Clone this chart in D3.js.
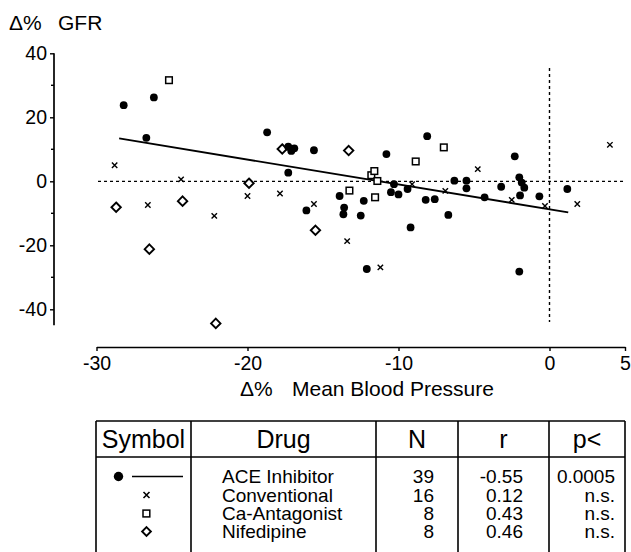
<html>
    <head>
        <style>
            body { margin: 0; background: #fff; }
            svg { display: block; }
            text { font-family: 'Liberation Sans', Arial, sans-serif; fill: #000; }
        </style>
        <script src="https://cdnjs.cloudflare.com/ajax/libs/d3/7.8.5/d3.min.js"></script>
    </head>
    <body>
        <script>
            // [change in mean BP %, change in GFR %]
            const aceInhibitor = [
                [-28.2, 23.8], [-26.7, 13.6], [-26.2, 26.2], [-18.7, 15.3], [-17.3, 10.8],
                [-17.1, 9.5], [-16.9, 10.3], [-17.3, 2.7], [-16.1, -9.1], [-15.6, 9.7],
                [-13.9, -4.6], [-13.6, -8.2], [-13.65, -10.3], [-12.5, -10.7], [-12.3, -6.1],
                [-12.1, -27.4], [-10.8, 8.5], [-10.3, -0.9], [-10.5, -3.4], [-10.0, -4.1],
                [-9.4, -2.4], [-9.2, -14.4], [-8.1, 14.1], [-8.2, -5.8], [-7.6, -5.6],
                [-6.7, -10.5], [-6.3, 0.2], [-5.5, 0.2], [-5.5, -2.2], [-4.3, -5.0],
                [-3.2, -1.7], [-2.3, 7.8], [-2.0, 1.25], [-1.84, -0.4], [-1.67, -2.0],
                [-1.95, -4.4], [-2.0, -28.2], [-0.67, -4.7], [1.18, -2.4]
            ];
            const conventional = [
                [-28.8, 5.0], [-26.6, -7.4], [-24.4, 0.6], [-22.2, -10.8], [-20.0, -4.6],
                [-17.85, -3.8], [-15.6, -7.1], [-13.4, -18.7], [-11.2, -26.9], [-9.1, -0.9],
                [-6.9, -3.0], [-4.75, 3.8], [-2.5, -5.8], [-0.3, -7.7], [1.84, -7.1], [4.0, 11.4]
            ];
            const caAntagonist = [
                [-25.2, 31.6], [-13.25, -2.9], [-11.8, 1.9], [-11.6, 3.2],
                [-11.4, 0.1], [-11.55, -5.0], [-8.86, 6.2], [-7.0, 10.6]
            ];
            const nifedipine = [
                [-28.7, -8.1], [-26.5, -21.2], [-24.3, -6.2], [-22.1, -44.4],
                [-19.9, -0.6], [-17.7, 10.1], [-15.5, -15.3], [-13.3, 9.6]
            ];
            const regression = [[-28.5, 13.4], [1.24, -9.7]];

            const xTicks = [-30, -20, -10, 0, 5];
            const yTicks = [40, 20, 0, -20, -40];
            const yMinorTicks = [30, 10, -10, -30];

            const tableHeaders = ['Symbol', 'Drug', 'N', 'r', 'p<'];
            const drugs = ['ACE Inhibitor', 'Conventional', 'Ca-Antagonist', 'Nifedipine'];
            const nValues = ['39', '16', '8', '8'];
            const rValues = ['-0.55', '0.12', '0.43', '0.46'];
            const pValues = ['0.0005', 'n.s.', 'n.s.', 'n.s.'];

            const width = 631;
            const height = 552;

            const svg = d3.select('body').append('svg')
                .attr('width', width)
                .attr('height', height);

            const x = d3.scaleLinear().domain([-30, 5]).range([96.5, 625]);
            const y = d3.scaleLinear().domain([40, -40]).range([53.3, 309.3]);
            const yAxisX = 54;
            const xAxisY = 347;
            const plain = d => String(d); // hyphen minus like the original

            // y axis
            const yAxis = svg.append('g')
                .attr('transform', `translate(${yAxisX},0)`)
                .call(d3.axisLeft(y).tickValues(yTicks).tickFormat(plain)
                    .tickSize(4).tickSizeOuter(0).tickPadding(3));
            yAxis.select('.domain').remove();
            yAxis.selectAll('text').attr('font-size', 19.5).attr('font-family', null);
            yAxis.selectAll('line').attr('stroke-width', 1.4);
            yAxis.selectAll('.minor')
                .data(yMinorTicks)
                .enter().append('line')
                .attr('x1', -3).attr('x2', 0)
                .attr('y1', d => y(d)).attr('y2', d => y(d))
                .attr('stroke', '#000').attr('stroke-width', 1.4);
            yAxis.append('line')
                .attr('x1', 0).attr('x2', 0)
                .attr('y1', y(40)).attr('y2', y(-45))
                .attr('stroke', '#000').attr('stroke-width', 1.7);

            // x axis
            const xAxis = svg.append('g')
                .attr('transform', `translate(0,${xAxisY})`)
                .call(d3.axisBottom(x).tickValues(xTicks).tickFormat(plain)
                    .tickSize(4).tickSizeOuter(0).tickPadding(5));
            xAxis.select('.domain').attr('stroke-width', 1.7);
            xAxis.selectAll('line').attr('stroke-width', 1.4);
            xAxis.selectAll('text').attr('font-size', 19.5).attr('font-family', null);

            // axis titles
            const yTitle = svg.append('text').attr('y', 30).attr('font-size', 21);
            yTitle.append('tspan').attr('x', 9).text('Δ%');
            yTitle.append('tspan').attr('x', 58).text('GFR');

            const xTitle = svg.append('text').attr('y', 396).attr('font-size', 21);
            xTitle.append('tspan').attr('x', 240).text('Δ%');
            xTitle.append('tspan').attr('x', 292).text('Mean Blood Pressure');

            // reference lines at zero
            svg.append('line')
                .attr('x1', x(-29.9)).attr('x2', x(5))
                .attr('y1', y(0)).attr('y2', y(0))
                .attr('stroke', '#000').attr('stroke-width', 1.2)
                .attr('stroke-dasharray', '3,3');
            svg.append('line')
                .attr('x1', x(0)).attr('x2', x(0))
                .attr('y1', y(35.4)).attr('y2', y(-44))
                .attr('stroke', '#000').attr('stroke-width', 1.4)
                .attr('stroke-dasharray', '3,3');

            // regression line for ACE inhibitors
            svg.append('path')
                .datum(regression)
                .attr('d', d3.line().x(d => x(d[0])).y(d => y(d[1])))
                .attr('fill', 'none')
                .attr('stroke', '#000')
                .attr('stroke-width', 1.9);

            const plot = svg.append('g');

            plot.selectAll('.cross')
                .data(conventional)
                .enter().append('path')
                .attr('class', 'cross')
                .attr('transform', d => `translate(${x(d[0])},${y(d[1])})`)
                .attr('d', 'M-2.7,-2.7L2.7,2.7M-2.7,2.7L2.7,-2.7')
                .attr('stroke', '#000').attr('stroke-width', 1.4);

            plot.selectAll('.square')
                .data(caAntagonist)
                .enter().append('rect')
                .attr('class', 'square')
                .attr('x', d => x(d[0]) - 3.3)
                .attr('y', d => y(d[1]) - 3.3)
                .attr('width', 6.6).attr('height', 6.6)
                .attr('fill', '#fff').attr('stroke', '#000').attr('stroke-width', 1.5);

            plot.selectAll('.diamond')
                .data(nifedipine)
                .enter().append('path')
                .attr('class', 'diamond')
                .attr('transform', d => `translate(${x(d[0])},${y(d[1])})`)
                .attr('d', 'M0,-4.7L4.7,0L0,4.7L-4.7,0Z')
                .attr('fill', '#fff').attr('stroke', '#000').attr('stroke-width', 1.9);

            plot.selectAll('.dot')
                .data(aceInhibitor)
                .enter().append('circle')
                .attr('class', 'dot')
                .attr('cx', d => x(d[0]))
                .attr('cy', d => y(d[1]))
                .attr('r', 3.9)
                .attr('fill', '#000');

            // table
            const cols = [96, 191, 376, 458, 549, 625];
            const tableTop = 421;
            const headerBottom = 457;
            const rowBase = [483, 501.5, 520, 538];
            const table = svg.append('g');

            table.selectAll('.hline')
                .data([tableTop, headerBottom])
                .enter().append('line')
                .attr('x1', cols[0]).attr('x2', cols[5])
                .attr('y1', d => d).attr('y2', d => d)
                .attr('stroke', '#000').attr('stroke-width', 1.6);
            table.selectAll('.vline')
                .data(cols)
                .enter().append('line')
                .attr('x1', d => d).attr('x2', d => d)
                .attr('y1', tableTop).attr('y2', height)
                .attr('stroke', '#000').attr('stroke-width', 1.6);

            table.selectAll('.head')
                .data(tableHeaders)
                .enter().append('text')
                .attr('x', (d, i) => (cols[i] + cols[i + 1]) / 2)
                .attr('y', 448)
                .attr('text-anchor', 'middle')
                .attr('font-size', 25)
                .text(d => d);

            const bodyFont = 19;
            table.selectAll('.drug')
                .data(drugs)
                .enter().append('text')
                .attr('x', 222).attr('y', (d, i) => rowBase[i])
                .attr('font-size', bodyFont).text(d => d);
            table.selectAll('.nval')
                .data(nValues)
                .enter().append('text')
                .attr('x', 434).attr('y', (d, i) => rowBase[i])
                .attr('text-anchor', 'end')
                .attr('font-size', bodyFont).text(d => d);
            table.selectAll('.rval')
                .data(rValues)
                .enter().append('text')
                .attr('x', 523).attr('y', (d, i) => rowBase[i])
                .attr('text-anchor', 'end')
                .attr('font-size', bodyFont).text(d => d);
            table.selectAll('.pval')
                .data(pValues)
                .enter().append('text')
                .attr('x', 615).attr('y', (d, i) => rowBase[i])
                .attr('text-anchor', 'end')
                .attr('font-size', bodyFont).text(d => d);

            // legend symbols in the first column
            const symMid = rowBase.map(b => b - 6.5);
            table.append('circle')
                .attr('cx', 118.5).attr('cy', symMid[0]).attr('r', 4.7).attr('fill', '#000');
            table.append('line')
                .attr('x1', 132).attr('x2', 183)
                .attr('y1', symMid[0]).attr('y2', symMid[0])
                .attr('stroke', '#000').attr('stroke-width', 1.7);
            table.append('path')
                .attr('transform', `translate(146.5,${symMid[1]})`)
                .attr('d', 'M-3,-3L3,3M-3,3L3,-3')
                .attr('stroke', '#000').attr('stroke-width', 1.6);
            table.append('rect')
                .attr('x', 143).attr('y', symMid[2] - 3.4)
                .attr('width', 6.8).attr('height', 6.8)
                .attr('fill', '#fff').attr('stroke', '#000').attr('stroke-width', 1.5);
            table.append('path')
                .attr('transform', `translate(146.5,${symMid[3]})`)
                .attr('d', 'M0,-4.4L4.4,0L0,4.4L-4.4,0Z')
                .attr('fill', '#fff').attr('stroke', '#000').attr('stroke-width', 1.9);
        </script>
    </body>
</html>
